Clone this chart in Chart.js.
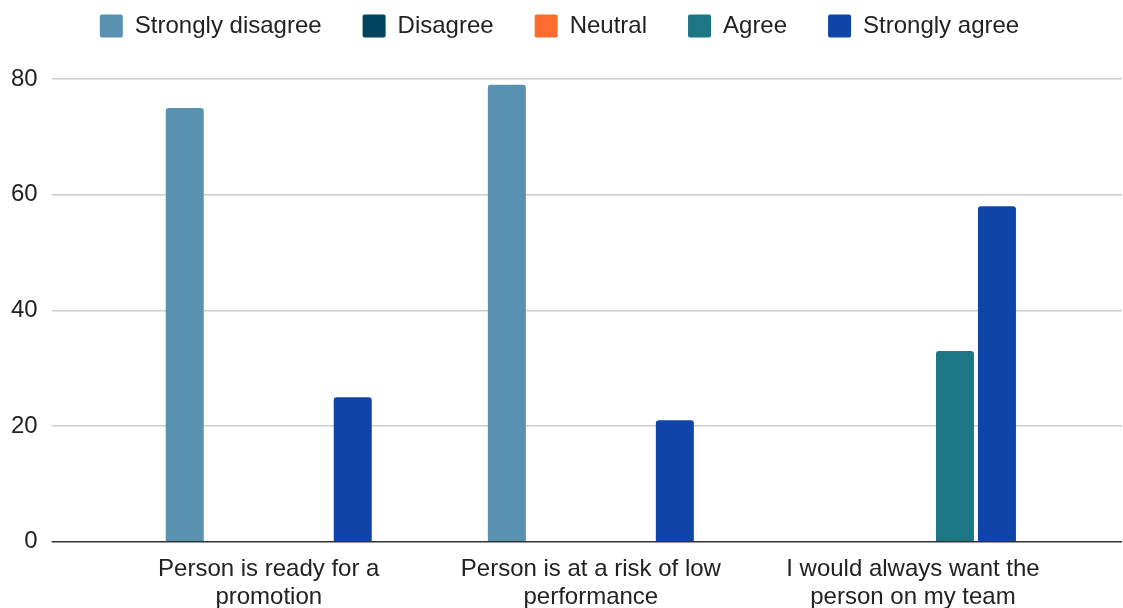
<!DOCTYPE html>
<html>
<head>
<meta charset="utf-8">
<script src="https://cdn.jsdelivr.net/npm/chart.js@4/dist/chart.umd.min.js"></script>
<style>
  html, body { margin: 0; padding: 0; background: #fff; }
  #wrap { width: 1123px; height: 608px; }
</style>
</head>
<body>
<div id="wrap"><canvas id="surveyChart" width="1123" height="608"></canvas></div>
<script>
const categories = [
    ['Person is ready for a', 'promotion'],
    ['Person is at a risk of low', 'performance'],
    ['I would always want the', 'person on my team']
];
const stronglyDisagree = [75, 79, 0];
const disagree = [0, 0, 0];
const neutral = [0, 0, 0];
const agree = [0, 0, 33];
const stronglyAgree = [25, 21, 58];
const yTicks = [0, 20, 40, 60, 80];

const FONT = 'Liberation Sans, Arial, sans-serif';

const makeSet = (label, data, color) => ({
    label: label,
    data: data,
    backgroundColor: color,
    borderRadius: { topLeft: 3, topRight: 3 },
    borderSkipped: 'bottom',
    categoryPercentage: 0.652,
    barPercentage: 0.905
});

// grid colour: dark baseline at 0, light grey elsewhere
const gridColor = c => (c.tick && c.tick.value === 0) ? '#333333' : '#cccccc';

const ctx = document.getElementById('surveyChart').getContext('2d');
const surveyChart = new Chart(ctx, {
    type: 'bar',
    data: {
        labels: categories,
        datasets: [
            makeSet('Strongly disagree', stronglyDisagree, '#5892b0'),
            makeSet('Disagree', disagree, '#00445f'),
            makeSet('Neutral', neutral, '#ff6d2e'),
            makeSet('Agree', agree, '#1d7683'),
            makeSet('Strongly agree', stronglyAgree, '#0f44a8')
        ]
    },
    options: {
        responsive: false,
        animation: false,
        layout: { padding: { left: -3, right: 1, top: -27, bottom: -8 } },
        plugins: {
            tooltip: { enabled: false },
            legend: {
                position: 'top',
                labels: {
                    boxWidth: 23,
                    boxHeight: 23,
                    padding: 41,
                    color: '#222',
                    font: { family: FONT, size: 24 },
                    useBorderRadius: true,
                    borderRadius: 2
                }
            },
            // empty title used only as a spacer between legend and plot
            title: {
                display: true,
                text: '',
                weight: 500,
                font: { size: 10, lineHeight: 1 },
                padding: { top: 0, bottom: 21 }
            }
        },
        scales: {
            x: {
                grid: { display: false },
                border: { display: false },
                ticks: {
                    color: '#222',
                    maxRotation: 0,
                    padding: 5,
                    font: { family: FONT, size: 24, lineHeight: 1.17 }
                }
            },
            y: {
                min: 0,
                max: yTicks[yTicks.length - 1],
                afterBuildTicks: axis => { axis.ticks = yTicks.map(v => ({ value: v })); },
                border: { display: false },
                grid: {
                    color: gridColor,
                    lineWidth: 1.5,
                    drawTicks: true,
                    tickLength: 56
                },
                ticks: {
                    color: '#222',
                    padding: 14,
                    font: { family: FONT, size: 24 }
                }
            },
            y2: {
                position: 'right',
                min: 0,
                max: yTicks[yTicks.length - 1],
                afterBuildTicks: axis => { axis.ticks = yTicks.map(v => ({ value: v })); },
                border: { display: false },
                grid: {
                    color: gridColor,
                    lineWidth: 1.5,
                    drawOnChartArea: false,
                    drawTicks: true,
                    tickLength: 48
                },
                ticks: { display: false }
            }
        }
    }
});
</script>
</body>
</html>
